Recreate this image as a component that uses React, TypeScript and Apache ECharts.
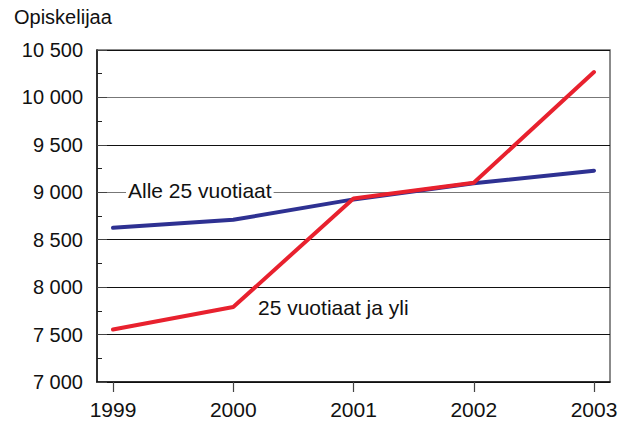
import React, { useEffect, useRef } from "react";
import * as echarts from "echarts";

const years = ["1999", "2000", "2001", "2002", "2003"];
const under25 = [8625, 8710, 8925, 9095, 9228];
const over25 = [7553, 7790, 8935, 9100, 10268];
const yTicksMin = 7000;
const yTicksMax = 10500;
const yInterval = 500;
const unitLabel = "Opiskelijaa";
const seriesNames = ["Alle 25 vuotiaat", "25 vuotiaat ja yli"];

const fmt = (v: number) => {
  const s = String(Math.round(v));
  return s.replace(/\B(?=(\d{3})+(?!\d))/g, " ");
};

export default function App() {
  const ref = useRef<HTMLDivElement>(null);
  useEffect(() => {
    document.body.style.margin = "0";
    const chart = echarts.init(ref.current!, undefined, { renderer: "svg" });
    const font = "Liberation Sans, Arial, sans-serif";
    chart.setOption({
      animation: false,
      backgroundColor: "#ffffff",
      textStyle: { fontFamily: font },
      grid: [
        { left: 97, right: 19, top: 50, bottom: 41, show: true, borderColor: "#666", borderWidth: 1.5 },
        { left: 113, right: 35, top: 50, bottom: 41 },
      ],
      xAxis: [
        {
          gridIndex: 0,
          type: "value",
          min: 0,
          max: 1,
          axisLine: { show: true, lineStyle: { color: "#111", width: 1.5 } },
          axisTick: { show: false },
          axisLabel: { show: false },
          splitLine: { show: false },
        },
        {
          gridIndex: 1,
          type: "category",
          boundaryGap: false,
          data: years,
          axisLine: { show: false },
          axisTick: { show: true, inside: false, length: 10, lineStyle: { color: "#444", width: 1.2 } },
          axisLabel: { color: "#111", fontSize: 21, margin: 17, fontFamily: font },
          splitLine: { show: false },
        },
      ],
      yAxis: [
        {
          gridIndex: 0,
          type: "value",
          min: yTicksMin,
          max: yTicksMax,
          interval: yInterval,
          axisLine: { show: true, lineStyle: { color: "#111", width: 1.5 } },
          axisTick: { show: true, inside: true, length: 10, lineStyle: { color: "#444" } },
          minorTick: { show: true, splitNumber: 2, length: 5, lineStyle: { color: "#222" } },
          axisLabel: { color: "#111", fontSize: 20, margin: 14, formatter: (v: number) => fmt(v), fontFamily: font },
          splitLine: {
            show: true,
            lineStyle: {
              color: ["#111", "#111", "#111", "#111", "#777", "#111", "#777", "#111"],
              width: 1.2,
            },
          },
        },
        {
          gridIndex: 1,
          type: "value",
          min: yTicksMin,
          max: yTicksMax,
          show: false,
        },
      ],
      graphic: [
        { type: "text", left: 14, top: 7, style: { text: unitLabel, fontSize: 20, fill: "#111", fontFamily: font } },
        {
          type: "text",
          left: 126,
          top: 180,
          z: 100,
          style: { text: seriesNames[0], fontSize: 21, fill: "#111", fontFamily: font, backgroundColor: "#fff", padding: [0, 2] },
        },
        {
          type: "text",
          left: 258,
          top: 297,
          z: 100,
          style: { text: seriesNames[1], fontSize: 21, fill: "#111", fontFamily: font },
        },
      ],
      series: [
        {
          name: seriesNames[0],
          type: "line",
          xAxisIndex: 1,
          yAxisIndex: 1,
          data: under25,
          symbol: "none",
          lineStyle: { color: "#2e3192", width: 4, cap: "round" },
          z: 3,
        },
        {
          name: seriesNames[1],
          type: "line",
          xAxisIndex: 1,
          yAxisIndex: 1,
          data: over25,
          symbol: "none",
          lineStyle: { color: "#e8212e", width: 4, cap: "round" },
          z: 4,
        },
      ],
    });
    return () => chart.dispose();
  }, []);
  return <div ref={ref} style={{ width: 629, height: 423 }} />;
}
